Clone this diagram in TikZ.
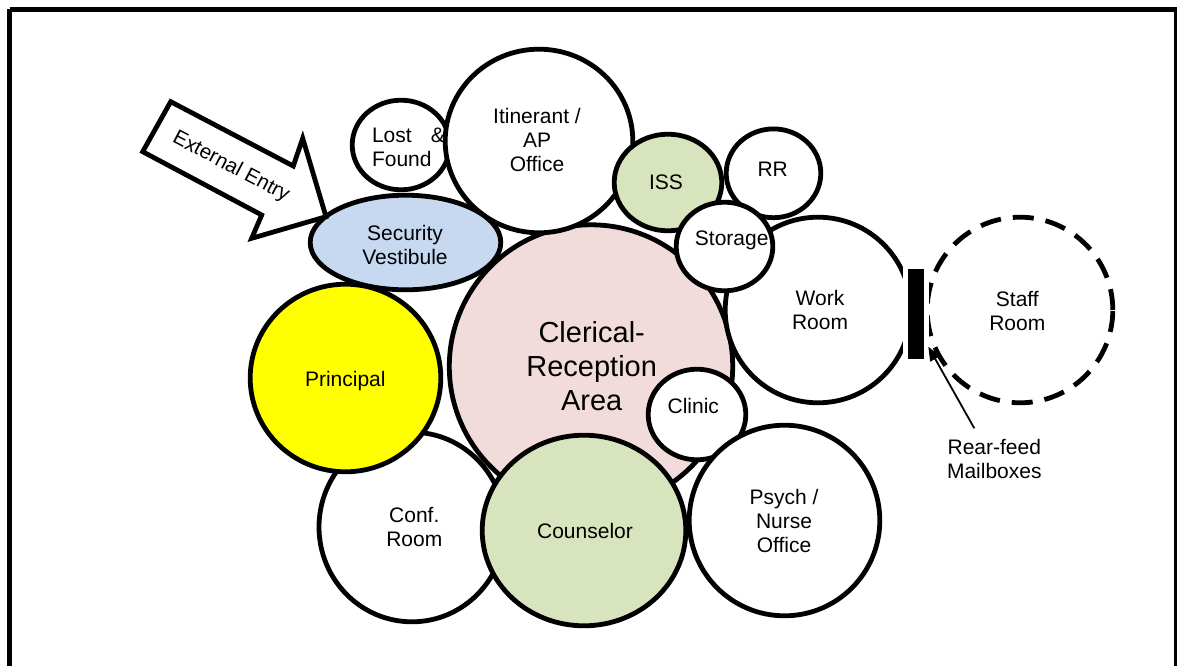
\documentclass[tikz,border=0pt]{standalone}
\usepackage{fontspec}
\setmainfont{Liberation Sans}
\usetikzlibrary{shapes.geometric,arrows.meta,calc}
\definecolor{pinkfill}{HTML}{F2DCDB}
\definecolor{greenfill}{HTML}{D7E4BD}
\definecolor{bluefill}{HTML}{C6D9F1}
\definecolor{yellowfill}{HTML}{FFFF00}
\tikzset{
  room/.style={ellipse, draw=black, line width=4.8pt, fill=white, inner sep=0pt, outer sep=0pt},
  lbl/.style={inner sep=0pt, outer sep=0pt, align=center, font=\fontsize{21}{24}\selectfont},
  bigl/.style={inner sep=0pt, outer sep=0pt, align=center, font=\fontsize{29}{34}\selectfont},
  frame/.style={draw=black, line width=5pt},
  entry/.style={draw=black, fill=white, line width=4.8pt, line join=miter},
  mbarrow/.style={draw=black, line width=1.8pt, -{Triangle[length=14pt,width=11pt]}},
}
\begin{document}
\begin{tikzpicture}[x=1pt,y=-1pt]
\useasboundingbox (0,0) rectangle (1177,666);
\clip (0,0) rectangle (1177,666);
\fill[white] (0,0) rectangle (1177,666);
\draw[frame] (9.5,9.5) -- (1176.5,9.5) -- (1176.5,720) (9.5,9.5) -- (9.5,720);

% rooms
\node[room, fill=pinkfill, minimum width=283.4pt, minimum height=283.4pt] (clerical) at (591,366.5) {};
\node[room, minimum width=186pt, minimum height=189.6pt] (conf) at (412,527) {};
\node[room, minimum width=97.6pt, minimum height=89.6pt] (lost) at (401,145) {};
\node[room, minimum width=187.6pt, minimum height=183.6pt] (itin) at (539,141) {};
\node[room, fill=bluefill, minimum width=190.6pt, minimum height=94.6pt] (vest) at (405.5,242.5) {};
\node[room, fill=yellowfill, minimum width=190.6pt, minimum height=187.6pt] (princ) at (345.5,378) {};
\node[room, fill=greenfill, minimum width=107.6pt, minimum height=96.6pt] (iss) at (668,182.5) {};
\node[room, minimum width=94.6pt, minimum height=88.8pt] (rr) at (773.5,173.3) {};
\node[room, minimum width=185.6pt, minimum height=185.6pt] (work) at (818,310) {};
\node[room, minimum width=96.6pt, minimum height=88.6pt] (stor) at (724.5,246.5) {};
\node[room, minimum width=97.6pt, minimum height=90.6pt] (clinic) at (697,414.5) {};
\node[room, fill=greenfill, minimum width=203.6pt, minimum height=190.6pt] (couns) at (584,530.5) {};
\node[room, minimum width=190.6pt, minimum height=190.6pt] (psych) at (784.5,520.5) {};
\node[room, fill=none, dash pattern=on 21pt off 12pt, minimum width=185.6pt, minimum height=185.6pt] (staff) at (1020,310) {};

% mailboxes
\node[fill=black, draw=white, line width=5pt, minimum width=21pt, minimum height=95pt, inner sep=0pt] (mail) at (916,314) {};

% labels
\node[lbl, text width=73pt, align=left] (tlost) at (408.5,147.7) {\makebox[73pt]{Lost\hfill\&}\\Found};
\node[lbl] (titin) at (537,140) {Itinerant /\\AP\\Office};
\node[lbl] (tiss) at (666,182.5) {ISS};
\node[lbl] (trr) at (772.7,169.7) {RR};
\node[lbl] (tstor) at (731.7,240.3) {Storage};
\node[lbl] (tvest) at (405,244.5) {Security\\Vestibule};
\node[lbl] (tprinc) at (345.3,381.3) {Principal};
\node[bigl] (tcler) at (591.7,366.1) {Clerical-\\Reception\\Area};
\node[lbl] (tclinic) at (693.3,405.5) {Clinic};
\node[lbl] (twork) at (820,310) {Work\\Room};
\node[lbl] (tstaff) at (1017.3,310.7) {Staff\\Room};
\node[lbl] (tconf) at (414.3,527) {Conf.\\Room};
\node[lbl] (tcouns) at (585,531.3) {Counselor};
\node[lbl] (tpsych) at (784,520.5) {Psych /\\Nurse\\Office};
\node[lbl] (tmail) at (994.3,458.5) {Rear-feed\\Mailboxes};

% mailbox pointer
\coordinate (mstart) at (974.3,428.3);
\coordinate (mtip) at (928.3,346.7);
\draw[mbarrow] (mstart) -- (mtip);

% external entry arrow
\draw[entry] (170.7,101.7) -- (293.3,166) -- (302.7,138.3) -- (326,216.7) -- (251.7,238.3) -- (261.7,215) -- (142.7,151.7) -- cycle;
\node[lbl, font=\fontsize{20.5}{24}\selectfont, rotate=-27.7] (tentry) at (231,167) {External Entry};
\end{tikzpicture}
\end{document}
